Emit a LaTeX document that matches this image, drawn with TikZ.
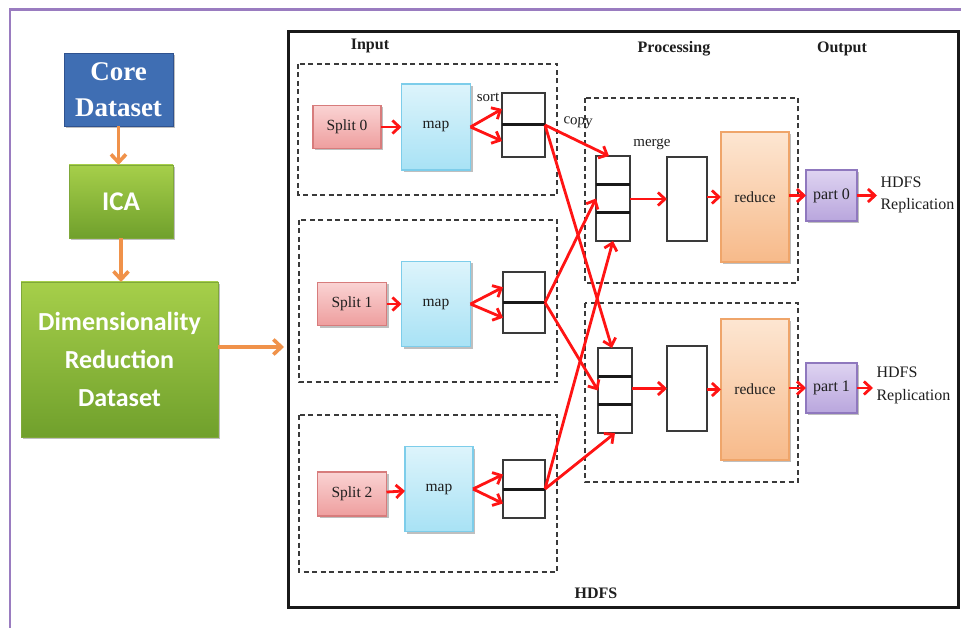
\documentclass[tikz,border=0pt]{standalone}
\usepackage{fontspec}
\setmainfont{Liberation Serif}
\newfontfamily\calibfont{Carlito}
\usetikzlibrary{arrows.meta,shadows,calc}

\definecolor{framepurple}{HTML}{9A7CC0}
\definecolor{coreblue}{HTML}{3F6EB3}
\definecolor{coreborder}{HTML}{2F528F}
\definecolor{greentop}{HTML}{A6CF4A}
\definecolor{greenbot}{HTML}{70A02C}
\definecolor{greenborder}{HTML}{7FA83A}
\definecolor{splittop}{HTML}{FAD3D3}
\definecolor{splitbot}{HTML}{EE9E9E}
\definecolor{splitborder}{HTML}{D77C7C}
\definecolor{maptop}{HTML}{DDF4FB}
\definecolor{mapbot}{HTML}{A8E2F5}
\definecolor{mapborder}{HTML}{7DCDEA}
\definecolor{redtop}{HTML}{FDE6D2}
\definecolor{redbot}{HTML}{F7BA8A}
\definecolor{redborder}{HTML}{EFA56A}
\definecolor{parttop}{HTML}{DED3F1}
\definecolor{partbot}{HTML}{B9A6DD}
\definecolor{partborder}{HTML}{8F78BE}
\definecolor{arrowred}{HTML}{FF1414}
\definecolor{arroworange}{HTML}{F0924A}
\definecolor{inktext}{HTML}{1E1E1E}
\definecolor{dashgray}{HTML}{3A3A3A}

\begin{document}
\begin{tikzpicture}[x=1pt,y=-1pt,
  box/.style={draw, inner sep=0pt, outer sep=0pt, align=center},
  softshadow/.style={drop shadow={shadow xshift=2pt, shadow yshift=-2pt, opacity=0.25, fill=black}},
  smalltext/.style={font=\fontsize{15.5}{18}\selectfont, text=inktext},
  corebox/.style={box, softshadow, fill=coreblue, draw=coreborder, line width=0.8pt,
    text=white, font=\fontsize{27}{36}\selectfont\bfseries},
  greenbox/.style={box, softshadow, top color=greentop, bottom color=greenbot, draw=greenborder,
    line width=0.8pt, text=white, font=\calibfont\bfseries\fontsize{27}{38}\selectfont},
  splitbox/.style={box, softshadow, smalltext, top color=splittop, bottom color=splitbot,
    draw=splitborder, line width=1.2pt},
  mapbox/.style={box, softshadow, smalltext, top color=maptop, bottom color=mapbot,
    draw=mapborder, line width=1.2pt},
  reducebox/.style={box, softshadow, smalltext, top color=redtop, bottom color=redbot,
    draw=redborder, line width=1.2pt},
  partbox/.style={box, softshadow, smalltext, font=\fontsize{16}{18}\selectfont,
    top color=parttop, bottom color=partbot, draw=partborder, line width=1.2pt},
  bufbox/.style={box, draw=dashgray, line width=2pt, fill=white},
  divider/.style={line width=3pt, draw=black!90},
  group/.style={draw=dashgray, line width=2.2pt, dash pattern=on 5pt off 3.5pt},
  heading/.style={font=\fontsize{16}{18}\selectfont\bfseries, text=inktext},
  note/.style={font=\fontsize{15}{18}\selectfont, text=inktext},
  redarrow/.style={draw=arrowred, line width=2.8pt,
    -{Straight Barb[length=7pt,width=13pt,line width=2.8pt]}},
  orangearrow/.style={draw=arroworange, line width=3.6pt,
    -{Straight Barb[length=8pt,width=15pt,line width=3.6pt]}}
]
\useasboundingbox (0,0) rectangle (961,628);
\fill[white] (0,0) rectangle (961,628);

% outer frame, running off the page on the right and at the bottom
\draw[framepurple, line width=2.8pt] (10,650) -- (10,9.5) -- (980,9.5);

% left-hand pipeline
\node[corebox, minimum width=109pt, minimum height=73pt] (core) at (118.5,89.5) {Core\\Dataset};
\node[greenbox, minimum width=104pt, minimum height=73pt] (ica) at (121,201.5) {ICA};
\node[greenbox, minimum width=197pt, minimum height=155pt, font=\calibfont\bfseries\fontsize{26}{38}\selectfont]
  (drd) at (119.5,359.5) {Dimensionality\\Reduction\\Dataset};

\draw[orangearrow] (core.south) -- (core.south |- ica.north);
\draw[orangearrow] (ica.south) -- (ica.south |- drd.north);
\coordinate (hdfsin) at (284,347);
\draw[orangearrow] (drd.east |- hdfsin) -- (hdfsin);

% HDFS frame
\draw[black!90, line width=3pt] (288,32) rectangle (958,607);
\node[heading] (lblinput) at (370,46) {Input};
\node[heading] (lblproc) at (674,49) {Processing};
\node[heading] (lblout) at (842,49) {Output};
\node[heading] (lblhdfs) at (596,593) {HDFS};

% dashed groups
\draw[group] (298,64) rectangle (557,195);
\draw[group] (299,220) rectangle (557,382);
\draw[group] (299,415) rectangle (557,572);
\draw[group] (585,98) rectangle (798,283);
\draw[group] (585,303) rectangle (798,482);

% map side
\node[splitbox, minimum width=68pt, minimum height=43pt] (split0) at (347,127) {Split 0};
\node[splitbox, minimum width=69pt, minimum height=43pt] (split1) at (352,304) {Split 1};
\node[splitbox, minimum width=69pt, minimum height=44pt] (split2) at (352,494) {Split 2};

\node[mapbox, minimum width=69pt, minimum height=86pt] (map0) at (436,127) {map};
\node[mapbox, minimum width=69pt, minimum height=85pt] (map1) at (436,304) {map};
\node[mapbox, minimum width=68pt, minimum height=85pt] (map2) at (439,489) {map};

\node[bufbox, minimum width=43pt, minimum height=64pt] (buf0) at (523.5,125) {};
\node[bufbox, minimum width=42pt, minimum height=61pt] (buf1) at (524,302.5) {};
\node[bufbox, minimum width=42pt, minimum height=58pt] (buf2) at (524,489) {};
\foreach \b in {buf0,buf1,buf2}
  \draw[divider] (\b.west) -- (\b.east);

\node[note] (lblsort) at (488,97) {sort};
\node[note, rotate=-4] (lblcopy) at (578,123) {copy};
\node[note] (lblmerge) at (652,144) {merge};

% reduce side
\node[bufbox, minimum width=34pt, minimum height=85pt] (merge0) at (613,198.5) {};
\node[bufbox, minimum width=34pt, minimum height=85pt] (merge1) at (615,390.5) {};
\foreach \m in {merge0,merge1} {
  \draw[divider] ($(\m.north west)!0.333!(\m.south west)$) -- ($(\m.north east)!0.333!(\m.south east)$);
  \draw[divider] ($(\m.north west)!0.667!(\m.south west)$) -- ($(\m.north east)!0.667!(\m.south east)$);
}

\node[bufbox, minimum width=40pt, minimum height=84pt] (sorted0) at (687,199) {};
\node[bufbox, minimum width=40pt, minimum height=85pt] (sorted1) at (687,388.5) {};

\node[reducebox, minimum width=68pt, minimum height=130pt] (reduce0) at (755,197) {reduce};
\node[reducebox, minimum width=68pt, minimum height=141pt] (reduce1) at (755,389.5) {reduce};

\node[partbox, minimum width=51pt, minimum height=51pt] (part0) at (831.5,195.5) {part 0};
\node[partbox, minimum width=51pt, minimum height=50pt] (part1) at (831.5,388) {part 1};

\node[note, font=\fontsize{16}{22}\selectfont, align=left, anchor=west] (repl0) at (877,195) {HDFS\\Replication};
\node[note, font=\fontsize{16}{23}\selectfont, align=left, anchor=west] (repl1) at (873,385) {HDFS\\Replication};

% data flow
\foreach \i in {0,1,2} {
  \draw[redarrow] (split\i) -- (map\i);
  \draw[redarrow] (map\i.east) -- ($(buf\i.north west)!0.25!(buf\i.south west)$);
  \draw[redarrow] (map\i.east) -- ($(buf\i.north west)!0.75!(buf\i.south west)$);
}
\draw[redarrow] (buf0.east) -- ($(merge0.north)+(-4,0)$);
\draw[redarrow] (buf0.east) -- ($(merge1.north)+(-3,0)$);
\draw[redarrow] (buf1.east) -- (merge0.west);
\draw[redarrow] (buf1.east) -- (merge1.west);
\draw[redarrow] (buf2.east) -- (merge0.south);
\draw[redarrow] (buf2.east) -- (merge1.south);

\foreach \i in {0,1} {
  \draw[redarrow] (merge\i.east |- sorted\i.west) -- (sorted\i.west);
  \draw[redarrow] (sorted\i.east |- reduce\i.west) -- (reduce\i.west);
  \draw[redarrow] (reduce\i.east |- part\i.west) -- (part\i.west);
  \draw[redarrow] (part\i.east) -- (part\i.east -| repl\i.west);
}
\end{tikzpicture}
\end{document}
